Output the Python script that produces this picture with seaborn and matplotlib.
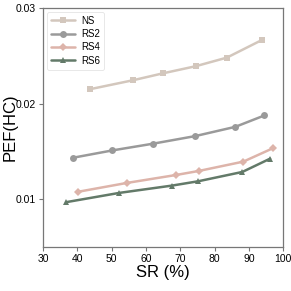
import matplotlib
matplotlib.use("Agg")
import matplotlib.pyplot as plt
import seaborn as sns
import pandas as pd

series = ["NS", "RS2", "RS4", "RS6"]
ns_x = [43.7, 56.3, 65.1, 74.5, 83.6, 93.8]
ns_y = [0.0215, 0.02244, 0.02317, 0.0239, 0.0248, 0.02664]
rs2_x = [38.8, 50.2, 62.0, 74.4, 86.1, 94.5]
rs2_y = [0.01434, 0.0151, 0.0158, 0.0166, 0.01757, 0.01875]
rs4_x = [40.1, 54.4, 68.9, 75.5, 88.4, 96.9]
rs4_y = [0.01077, 0.0117, 0.01254, 0.01296, 0.01393, 0.01531]
rs6_x = [36.7, 52.2, 67.7, 75.3, 88.1, 96.2]
rs6_y = [0.00969, 0.01066, 0.01143, 0.01188, 0.01285, 0.01424]

colors = ["#d3c7bd", "#9a9a9a", "#ddb4aa", "#637a69"]
markers = ["s", "o", "D", "^"]

xs = [ns_x, rs2_x, rs4_x, rs6_x]
ys = [ns_y, rs2_y, rs4_y, rs6_y]
rows = []
for s, x, y in zip(series, xs, ys):
    for a, b in zip(x, y):
        rows.append({"series": s, "SR": a, "PEF": b})
df = pd.DataFrame(rows)

sns.set_style("white")
plt.rcParams['font.family'] = ['Liberation Sans', 'DejaVu Sans']
plt.rcParams['text.color'] = 'black'
plt.rcParams['axes.labelcolor'] = 'black'
plt.rcParams['xtick.color'] = 'black'
plt.rcParams['ytick.color'] = 'black'

fig = plt.figure(figsize=(2.91, 2.91), dpi=100)
ax = fig.add_axes([0.148, 0.151, 0.825, 0.822])
for s, c, m in zip(series, colors, markers):
    d = df[df.series == s]
    sns.lineplot(data=d, x="SR", y="PEF", ax=ax, color=c, marker=m,
                 markersize=5 if m != "D" else 4.5, markeredgewidth=0,
                 linewidth=1.8, label=s, sort=False)

ax.set_xlim(30, 100)
ax.set_ylim(0.005, 0.03)
ax.set_xticks([30, 40, 50, 60, 70, 80, 90, 100])
ax.set_yticks([0.01, 0.02, 0.03])
ax.set_yticklabels(["0.01", "0.02", "0.03"])
ax.tick_params(axis='both', labelsize=7.5, length=3, width=0.8,
               left=True, bottom=True, pad=2)
ax.tick_params(axis='both', color="#777777")
for sp in ax.spines.values():
    sp.set_color("#777777")
    sp.set_linewidth(0.9)
ax.set_xlabel("SR (%)", fontsize=12, labelpad=1)
ax.set_ylabel("PEF(HC)", fontsize=12)
ax.yaxis.set_label_coords(-0.108, 0.5)
leg = ax.legend(loc="upper left", fontsize=7, frameon=True, handlelength=2.5,
                borderpad=0.4, labelspacing=0.35, handletextpad=0.6,
                borderaxespad=0.4)
leg.get_frame().set_edgecolor("#dddddd")
leg.get_frame().set_linewidth(0.6)

fig.savefig("out.png", dpi=100)
